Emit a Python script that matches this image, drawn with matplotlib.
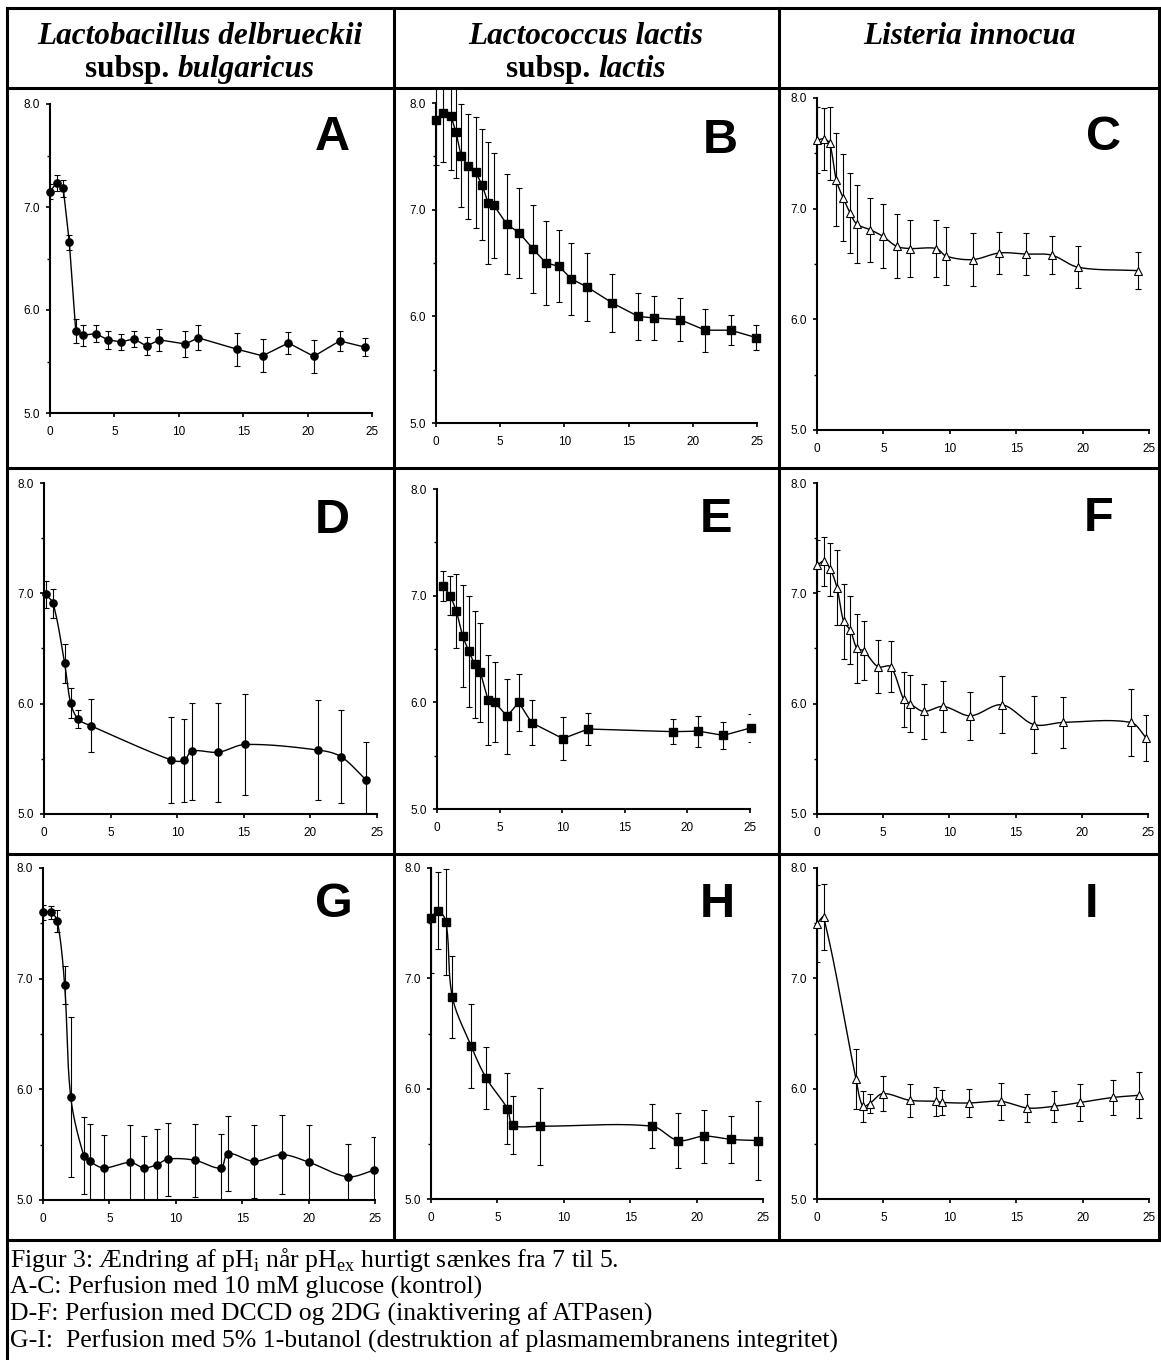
import matplotlib
matplotlib.use("Agg")
import matplotlib.pyplot as plt
import numpy as np
from matplotlib.patches import Rectangle

plt.rcParams["font.family"] = ["Liberation Sans", "DejaVu Sans"]
plt.rcParams["mathtext.fontset"] = "custom"
plt.rcParams["mathtext.rm"] = "Liberation Serif"

W, H = 1161, 1360

# ---- data (time [min] vs pHi) ----
a_x = [0, 0.52, 1.03, 1.5, 2.0, 2.53, 3.54, 4.52, 5.53, 6.51, 7.5, 8.5, 10.52, 11.5, 14.5, 16.5, 18.51, 20.48, 22.49, 24.43]
a_y = [7.15, 7.235, 7.18, 6.656, 5.797, 5.755, 5.77, 5.71, 5.69, 5.72, 5.65, 5.71, 5.67, 5.73, 5.62, 5.555, 5.68, 5.55, 5.70, 5.64]
a_e = [0.07, 0.08, 0.08, 0.07, 0.12, 0.10, 0.08, 0.09, 0.08, 0.08, 0.09, 0.11, 0.13, 0.12, 0.16, 0.16, 0.11, 0.16, 0.10, 0.09]

b_x = [0, 0.52, 1.17, 1.56, 1.95, 2.52, 3.09, 3.58, 4.07, 4.51, 5.5, 6.5, 7.57, 8.56, 9.57, 10.55, 11.77, 13.74, 15.74, 16.99, 18.98, 20.98, 22.95, 24.95]
b_y = [7.84, 7.91, 7.875, 7.725, 7.506, 7.406, 7.35, 7.234, 7.06, 7.04, 6.866, 6.78, 6.63, 6.5, 6.47, 6.35, 6.275, 6.125, 6.0, 5.984, 5.97, 5.87, 5.87, 5.80]
b_e = [0.42, 0.46, 0.50, 0.43, 0.48, 0.49, 0.52, 0.52, 0.57, 0.49, 0.47, 0.42, 0.41, 0.39, 0.34, 0.34, 0.32, 0.27, 0.22, 0.21, 0.20, 0.20, 0.14, 0.12]

c_x = [0, 0.5, 0.95, 1.45, 1.96, 2.5, 3.0, 4.0, 4.96, 5.99, 7.0, 8.98, 9.75, 11.73, 13.74, 15.72, 17.68, 19.68, 24.15]
c_y = [7.62, 7.63, 7.59, 7.26, 7.10, 6.96, 6.86, 6.81, 6.75, 6.66, 6.64, 6.64, 6.57, 6.54, 6.60, 6.59, 6.58, 6.47, 6.44]
c_e = [0.30, 0.28, 0.33, 0.42, 0.39, 0.36, 0.35, 0.29, 0.29, 0.29, 0.26, 0.26, 0.26, 0.24, 0.19, 0.19, 0.17, 0.19, 0.17]

d_x = [0.13, 0.68, 1.55, 2.0, 2.56, 3.51, 9.53, 10.53, 11.08, 13.09, 15.1, 20.56, 22.29, 24.17]
d_y = [6.99, 6.91, 6.365, 6.006, 5.86, 5.80, 5.49, 5.485, 5.57, 5.56, 5.63, 5.58, 5.52, 5.31]
d_e = [0.12, 0.13, 0.18, 0.14, 0.08, 0.24, 0.39, 0.38, 0.44, 0.45, 0.46, 0.45, 0.42, 0.34]

e_x = [0.45, 1.07, 1.55, 2.05, 2.53, 3.01, 3.47, 4.08, 4.61, 5.6, 6.53, 7.55, 10.05, 12.08, 18.88, 20.88, 22.88, 25.05]
e_y = [7.094, 7.0, 6.856, 6.62, 6.48, 6.356, 6.28, 6.02, 6.0, 5.87, 6.0, 5.81, 5.66, 5.75, 5.725, 5.73, 5.69, 5.76]
e_e = [0.14, 0.18, 0.35, 0.48, 0.52, 0.50, 0.46, 0.42, 0.375, 0.35, 0.27, 0.21, 0.20, 0.15, 0.12, 0.145, 0.13, 0.13]

f_x = [0, 0.5, 1.0, 1.51, 2.01, 2.52, 3.02, 3.52, 4.6, 5.56, 6.55, 7.02, 8.06, 9.54, 11.58, 13.97, 16.39, 18.56, 23.69, 24.87]
f_y = [7.254, 7.29, 7.22, 7.05, 6.746, 6.665, 6.50, 6.48, 6.335, 6.335, 6.04, 6.0, 5.93, 5.975, 5.89, 5.99, 5.81, 5.83, 5.83, 5.69]
f_e = [0.23, 0.22, 0.24, 0.34, 0.34, 0.31, 0.31, 0.27, 0.24, 0.23, 0.25, 0.26, 0.25, 0.23, 0.22, 0.26, 0.26, 0.23, 0.30, 0.21]

g_x = [0, 0.58, 1.08, 1.63, 2.09, 3.07, 3.52, 4.57, 6.58, 7.59, 8.57, 9.4, 11.41, 13.39, 13.92, 15.9, 18.01, 20.05, 22.94, 24.95]
g_y = [7.6, 7.6, 7.52, 6.94, 5.93, 5.40, 5.35, 5.29, 5.34, 5.29, 5.32, 5.37, 5.36, 5.29, 5.42, 5.35, 5.41, 5.34, 5.21, 5.27]
g_e = [0.07, 0.06, 0.10, 0.17, 0.72, 0.35, 0.34, 0.30, 0.34, 0.29, 0.32, 0.33, 0.33, 0.31, 0.34, 0.33, 0.36, 0.34, 0.30, 0.30]

h_x = [0, 0.55, 1.13, 1.61, 3.01, 4.14, 5.75, 6.17, 8.18, 16.62, 18.6, 20.58, 22.59, 24.6]
h_y = [7.547, 7.613, 7.51, 6.83, 6.39, 6.10, 5.82, 5.67, 5.66, 5.66, 5.53, 5.57, 5.54, 5.53]
h_e = [0.50, 0.35, 0.48, 0.37, 0.38, 0.28, 0.32, 0.26, 0.35, 0.20, 0.25, 0.24, 0.21, 0.36]

i_x = [0, 0.5, 2.93, 3.44, 3.96, 4.96, 6.97, 8.95, 9.45, 11.41, 13.84, 15.85, 17.85, 19.83, 22.27, 24.27]
i_y = [7.495, 7.553, 6.09, 5.84, 5.865, 5.955, 5.895, 5.885, 5.875, 5.87, 5.885, 5.825, 5.84, 5.875, 5.92, 5.94]
i_e = [0.35, 0.30, 0.27, 0.14, 0.09, 0.16, 0.15, 0.13, 0.11, 0.13, 0.165, 0.13, 0.14, 0.165, 0.16, 0.21]

col_titles = [
    ("Lactobacillus delbrueckii", "bulgaricus"),
    ("Lactococcus lactis", "lactis"),
    ("Listeria innocua", None),
]
caption = [
    r"Figur 3: Ændring af pH$_\mathregular{i}$ når pH$_\mathregular{ex}$ hurtigt sænkes fra 7 til 5.",
    "A-C: Perfusion med 10 mM glucose (kontrol)",
    "D-F: Perfusion med DCCD og 2DG (inaktivering af ATPasen)",
    "G-I:  Perfusion med 5% 1-butanol (destruktion af plasmamembranens integritet)",
]

# letter, data, marker, smooth line, box (left, top, right, bottom px), letter pos (x, baseline y)
panels = [
    ("A", a_x, a_y, a_e, "o", False, (50, 104, 372, 413), (332, 150)),
    ("B", b_x, b_y, b_e, "s", False, (436, 103, 757, 423), (720, 153)),
    ("C", c_x, c_y, c_e, "^", True, (817, 98, 1149, 430), (1103, 150)),
    ("D", d_x, d_y, d_e, "o", True, (44, 483, 377, 814), (332, 533)),
    ("E", e_x, e_y, e_e, "s", False, (437, 489, 750, 809), (716, 532)),
    ("F", f_x, f_y, f_e, "^", True, (817, 483, 1148, 814), (1099, 531)),
    ("G", g_x, g_y, g_e, "o", True, (43, 868, 375, 1200), (334, 917)),
    ("H", h_x, h_y, h_e, "s", True, (431, 868, 763, 1199), (717, 917)),
    ("I", i_x, i_y, i_e, "^", True, (817, 868, 1149, 1199), (1092, 917)),
]


def smooth_curve(x, y, kx, ky, n=30):
    # Bezier smoothing (spreadsheet style), tangents scaled by screen segment length
    p = np.column_stack([np.asarray(x) * kx, np.asarray(y) * ky])
    p = np.vstack([p[0], p, p[-1]])
    t = np.linspace(0, 1, n)[:, None]
    segs = []
    for k in range(1, len(p) - 2):
        p0, p1, p2, p3 = p[k - 1], p[k], p[k + 1], p[k + 2]
        l01 = np.hypot(*(p1 - p0))
        l12 = np.hypot(*(p2 - p1))
        l23 = np.hypot(*(p3 - p2))
        c1 = p1 + (p2 - p0) * l12 / (3 * (l01 + l12))
        c2 = p2 - (p3 - p1) * l12 / (3 * (l12 + l23))
        segs.append((1 - t) ** 3 * p1 + 3 * (1 - t) ** 2 * t * c1
                    + 3 * (1 - t) * t ** 2 * c2 + t ** 3 * p2)
    pts = np.vstack(segs)
    return pts[:, 0] / kx, pts[:, 1] / ky


fig = plt.figure(figsize=(W / 100, H / 100), dpi=100)
bg = fig.add_axes([0, 0, 1, 1])
bg.set_xlim(0, W)
bg.set_ylim(H, 0)
bg.axis("off")

# table frame
lw_tab = 2.2
for yy in (8, 88, 468, 854, 1240):
    bg.plot([7, 1159], [yy, yy], color="black", lw=lw_tab, solid_capstyle="projecting")
bg.plot([7, 7], [8, H], color="black", lw=lw_tab)
for xx in (393.5, 779, 1159):
    bg.plot([xx, xx], [8, 1240], color="black", lw=lw_tab)

# column headers (mixed upright / italic)
renderer = fig.canvas.get_renderer()
serif = ["Liberation Serif", "DejaVu Serif"]
hsize = 22.5
col_centers = [200, 586, 969]
for (name, sub), cx in zip(col_titles, col_centers):
    bg.text(cx, 44, name, ha="center", va="baseline", family=serif,
            fontsize=hsize, fontweight="bold", fontstyle="italic")
    if sub is None:
        continue
    t1 = bg.text(0, 77, "subsp. ", ha="left", va="baseline", family=serif,
                 fontsize=hsize, fontweight="bold")
    t2 = bg.text(0, 77, sub, ha="left", va="baseline", family=serif,
                 fontsize=hsize, fontweight="bold", fontstyle="italic")
    w1 = t1.get_window_extent(renderer).width
    w2 = t2.get_window_extent(renderer).width
    x0 = cx - (w1 + w2) / 2
    t1.set_x(x0)
    t2.set_x(x0 + w1)

# caption
for k, line in enumerate(caption):
    bg.text(10, 1267 + k * 26.7, line, ha="left", va="baseline", family=serif, fontsize=18.5)

below_header = Rectangle((0, 89), W, H, transform=bg.transData)

for letter, xs, ys, es, mk, smooth, (l, t, r, b), (lx, ly) in panels:
    ax = fig.add_axes([l / W, 1 - b / H, (r - l) / W, (b - t) / H])
    ax.set_facecolor("none")
    eb = ax.errorbar(xs, ys, yerr=es, fmt="none", ecolor="black", elinewidth=0.8,
                     capsize=2, capthick=0.8, zorder=2)
    if letter == "B":
        # bars run above 8.0 up to the header rule
        for art in list(eb.lines[1]) + list(eb.lines[2]):
            art.set_clip_on(True)
            art.set_clip_path(below_header)
    if smooth:
        sx, sy = smooth_curve(xs, ys, (r - l) / 25.0, (b - t) / 3.0)
    else:
        sx, sy = xs, ys
    ax.plot(sx, sy, color="black", lw=1.0, zorder=3)
    if mk == "^":
        ax.plot(xs, ys, ls="none", marker="^", ms=5.5, mfc="white", mec="black", mew=0.8,
                zorder=4, clip_on=False)
    else:
        ax.plot(xs, ys, ls="none", marker=mk, ms=5.2, mfc="black", mec="black",
                zorder=4, clip_on=False)
    ax.set_xlim(0, 25)
    ax.set_ylim(5, 8)
    ax.set_xticks([0, 5, 10, 15, 20, 25])
    ax.set_yticks([5, 6, 7, 8])
    ax.set_yticks([5.5, 6.5, 7.5], minor=True)
    ax.set_yticklabels(["5.0", "6.0", "7.0", "8.0"])
    for s in ("top", "right"):
        ax.spines[s].set_visible(False)
    for s in ("left", "bottom"):
        ax.spines[s].set_linewidth(1.5)
    ax.tick_params(axis="x", which="major", direction="out", length=3, width=1.2,
                   pad=6.5, labelsize=8.5)
    ax.tick_params(axis="y", which="major", direction="out", length=3, width=1.2,
                   pad=4.5, labelsize=8.5)
    ax.tick_params(axis="y", which="minor", direction="out", length=2, width=1.0)
    bg.text(lx, ly, letter, ha="center", va="baseline", fontsize=35, fontweight="bold")

fig.savefig("out.png", dpi=100)
